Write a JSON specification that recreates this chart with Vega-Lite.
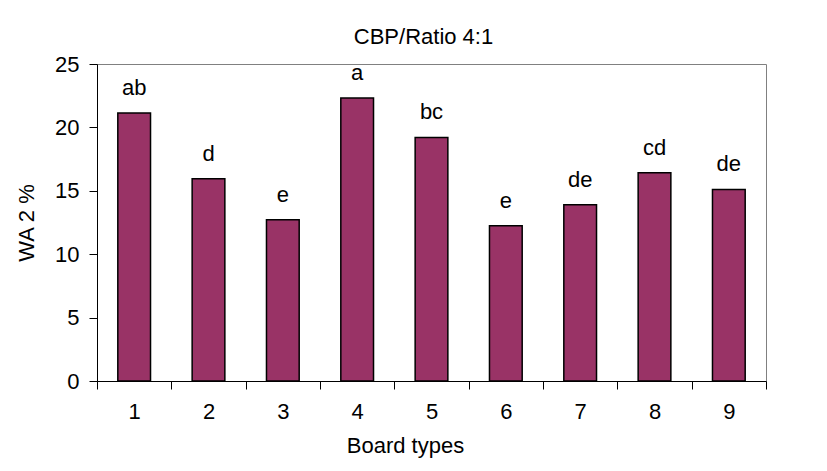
{
  "$schema": "https://vega.github.io/schema/vega-lite/v6.json",
  "autosize": "none",
  "width": 669,
  "height": 317,
  "padding": {"left": 97, "top": 64, "right": 61, "bottom": 90},
  "background": "white",
  "title": {"text": "CBP/Ratio 4:1", "fontSize": 22, "font": "Liberation Sans", "fontWeight": "normal", "color": "black", "offset": 20, "dx": -8, "dy": 38, "baseline": "bottom"},
  "data": {"values": [
    {"board": "1", "wa": 21.14, "group": "ab"},
    {"board": "2", "wa": 15.95, "group": "d"},
    {"board": "3", "wa": 12.72, "group": "e"},
    {"board": "4", "wa": 22.32, "group": "a"},
    {"board": "5", "wa": 19.21, "group": "bc"},
    {"board": "6", "wa": 12.25, "group": "e"},
    {"board": "7", "wa": 13.9, "group": "de"},
    {"board": "8", "wa": 16.43, "group": "cd"},
    {"board": "9", "wa": 15.11, "group": "de"}
  ]},
  "encoding": {
    "x": {"field": "board", "type": "ordinal", "scale": {"paddingInner": 0, "paddingOuter": 0},
      "axis": {"title": "Board types", "labelAngle": 0, "tickBand": "extent", "tickSize": 8, "labelPadding": 12, "titlePadding": 13, "titleX": 308}},
    "y": {"field": "wa", "type": "quantitative", "scale": {"domain": [0, 25], "nice": false},
      "axis": {"title": "WA 2 %", "values": [0, 5, 10, 15, 20, 25], "grid": false, "tickSize": 8, "labelPadding": 10, "titlePadding": 16}}
  },
  "layer": [
    {"mark": {"type": "bar", "width": {"band": 0.44}, "color": "#993366", "stroke": "black", "strokeWidth": 1.5}},
    {"mark": {"type": "text", "baseline": "alphabetic", "dy": -18, "fontSize": 22, "font": "Liberation Sans", "color": "black"},
      "encoding": {"text": {"field": "group"}}}
  ],
  "config": {
    "view": {"stroke": "#808080", "strokeWidth": 1},
    "axis": {"domainColor": "black", "tickColor": "black", "labelColor": "black", "titleColor": "black",
      "labelFont": "Liberation Sans", "titleFont": "Liberation Sans", "labelFontSize": 22, "titleFontSize": 22,
      "titleFontWeight": "normal", "domainWidth": 1, "tickWidth": 1}
  }
}
